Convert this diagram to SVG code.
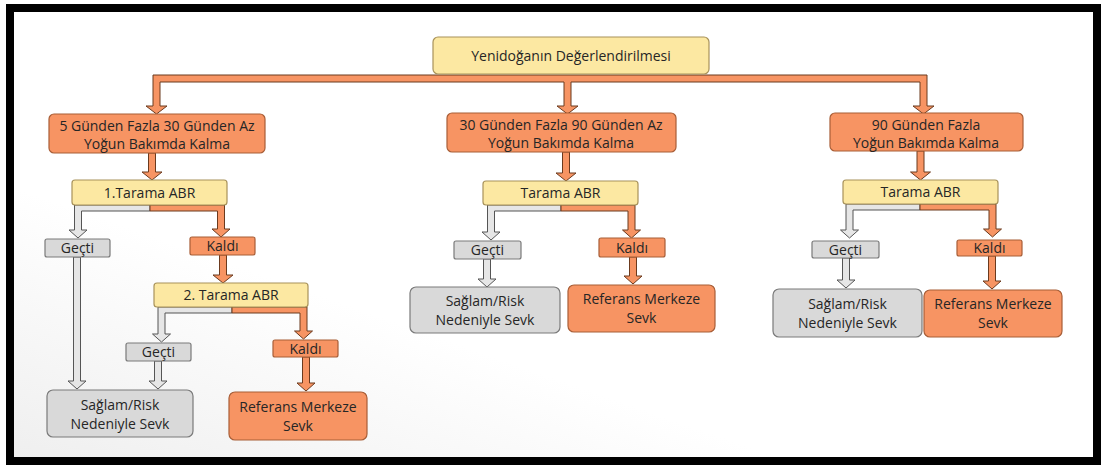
<svg xmlns="http://www.w3.org/2000/svg" width="1101" height="465" viewBox="0 0 1101 465">
<defs>
<style>
.y{fill:#FCE8A2;stroke:#A8925A;stroke-width:1.2}
.o{fill:#F79463;stroke:#A85E37;stroke-width:1.2}
.g{fill:#D9D9D9;stroke:#7A7A7A;stroke-width:1.2}
.ao{fill:#F79463;stroke:#6B3A1E;stroke-width:1}
.ag{fill:#E6E6E6;stroke:#555;stroke-width:1}
text{font-family:"Open Sans","Noto Sans",sans-serif;font-size:14px;fill:#262626;text-anchor:middle}
</style>
<linearGradient id="bg" x1="0" y1="1" x2="0.6" y2="0.3">
<stop offset="0" stop-color="#EFEFEF"/>
<stop offset="0.5" stop-color="#FFFFFF"/>
</linearGradient>
</defs>
<rect x="6" y="4" width="1095" height="461" fill="#000"/>
<rect x="14" y="12" width="1079" height="445" fill="url(#bg)"/>

<g id="connectors">
<path class="ao" d="M153,75 H927 V106 H934 L923.5,114 L913,106 H920 V82 H571 V106 H578 L567.5,114 L557,106 H564 V82 H160 V106 H167 L156.5,114 L146,106 H153 Z"/>
<path class="ao" d="M148.5,153 H155.5 V172 H162 L152,180 L142,172 H148.5 Z"/>
<path class="ao" d="M562.5,152 H569.5 V173 H576 L566,181 L556,173 H562.5 Z"/>
<path class="ao" d="M917,151 H924 V172 H930.5 L920.5,180 L910.5,172 H917 Z"/>
<path class="ag" d="M150,205 H74.5 V230 H69 L78,238 L87,230 H81.5 V211 H150 Z"/>
<path class="ao" d="M150,205 H224.5 V229 H230 L221,237 L212,229 H217.5 V211 H150 Z"/>
<path class="ao" d="M219.5,255 H226.5 V275 H233 L223,283 L213,275 H219.5 Z"/>
<path class="ag" d="M232,307 H158 V334 H152.5 L161.5,342 L170.5,334 H165 V313 H232 Z"/>
<path class="ao" d="M232,307 H307 V331 H312.5 L303.5,339 L294.5,331 H300 V313 H232 Z"/>
<path class="ag" d="M73.5,257 H80.5 V381 H86 L77,389 L68,381 H73.5 Z"/>
<path class="ag" d="M154.5,361 H161.5 V381 H167 L158,389 L149,381 H154.5 Z"/>
<path class="ao" d="M302.5,357 H309.5 V383 H315 L306,391 L297,383 H302.5 Z"/>
<path class="ag" d="M561,205 H487.5 V232 H482 L491,240 L500,232 H494.5 V211 H561 Z"/>
<path class="ao" d="M561,205 H635 V230 H640.5 L631.5,238 L622.5,230 H628 V211 H561 Z"/>
<path class="ag" d="M483.5,259 H490.5 V279 H496 L487,287 L478,279 H483.5 Z"/>
<path class="ao" d="M629.5,257 H636.5 V276 H642 L633,284 L624,276 H629.5 Z"/>
<path class="ag" d="M920,204 H846 V230 H840.5 L849.5,238 L858.5,230 H853 V210 H920 Z"/>
<path class="ao" d="M920,204 H996 V229 H1001.5 L992.5,237 L983.5,229 H989 V210 H920 Z"/>
<path class="ag" d="M842.5,258 H849.5 V280 H855 L846,288 L837,280 H842.5 Z"/>
<path class="ao" d="M988.5,256 H995.5 V281 H1001 L992,289 L983,281 H988.5 Z"/>
</g>

<g id="root"><rect class="y" x="433" y="37" width="276" height="37" rx="5"/><text x="571" y="61">Yenidoğanın Değerlendirilmesi</text></g>

<g id="l2a"><rect class="o" x="49" y="114" width="216" height="39" rx="5"/><text x="157" y="131">5 Günden Fazla 30 Günden Az</text><text x="157" y="149">Yoğun Bakımda Kalma</text></g>
<g id="l2b"><rect class="o" x="447" y="113" width="229" height="39" rx="5"/><text x="561" y="130">30 Günden Fazla 90 Günden Az</text><text x="561" y="148">Yoğun Bakımda Kalma</text></g>
<g id="l2c"><rect class="o" x="830" y="113" width="193" height="38" rx="5"/><text x="926" y="130">90 Günden Fazla</text><text x="926" y="148">Yoğun Bakımda Kalma</text></g>

<g id="t1"><rect class="y" x="72" y="180" width="155" height="25" rx="3"/><text x="149.5" y="197.5">1.Tarama ABR</text></g>
<g id="t2"><rect class="y" x="483" y="181" width="155" height="24" rx="3"/><text x="560.5" y="198">Tarama ABR</text></g>
<g id="t3"><rect class="y" x="843" y="180" width="155" height="24" rx="3"/><text x="920.5" y="197">Tarama ABR</text></g>

<g id="g1"><rect class="g" x="45" y="239" width="65" height="18" rx="2"/><text x="77.5" y="253">Geçti</text></g>
<g id="k1"><rect class="o" x="190" y="237" width="65" height="18" rx="2"/><text x="222.5" y="251">Kaldı</text></g>
<g id="t1b"><rect class="y" x="154" y="283" width="154" height="24" rx="3"/><text x="231" y="300">2. Tarama ABR</text></g>
<g id="g1b"><rect class="g" x="126" y="343" width="65" height="18" rx="2"/><text x="158.5" y="357">Geçti</text></g>
<g id="k1b"><rect class="o" x="273" y="340" width="65" height="17" rx="2"/><text x="305.5" y="353.5">Kaldı</text></g>
<g id="s1"><rect class="g" x="47" y="390" width="146" height="47" rx="6"/><text x="120" y="410">Sağlam/Risk</text><text x="120" y="429">Nedeniyle Sevk</text></g>
<g id="r1"><rect class="o" x="229" y="392" width="138" height="48" rx="6"/><text x="298" y="412">Referans Merkeze</text><text x="298" y="431">Sevk</text></g>

<g id="g2"><rect class="g" x="454" y="241" width="67" height="18" rx="2"/><text x="487.5" y="255">Geçti</text></g>
<g id="k2"><rect class="o" x="599" y="238" width="66" height="19" rx="2"/><text x="632" y="252.5">Kaldı</text></g>
<g id="s2"><rect class="g" x="410" y="287" width="150" height="46" rx="6"/><text x="485" y="306">Sağlam/Risk</text><text x="485" y="325">Nedeniyle Sevk</text></g>
<g id="r2"><rect class="o" x="568" y="285" width="147" height="47" rx="6"/><text x="641.5" y="304">Referans Merkeze</text><text x="641.5" y="323">Sevk</text></g>

<g id="g3"><rect class="g" x="812" y="241" width="67" height="17" rx="2"/><text x="845.5" y="254.5">Geçti</text></g>
<g id="k3"><rect class="o" x="957" y="240" width="65" height="16" rx="2"/><text x="989.5" y="253">Kaldı</text></g>
<g id="s3"><rect class="g" x="773" y="289" width="149" height="48" rx="6"/><text x="847.5" y="309">Sağlam/Risk</text><text x="847.5" y="328">Nedeniyle Sevk</text></g>
<g id="r3"><rect class="o" x="924" y="290" width="138" height="47" rx="6"/><text x="993" y="309">Referans Merkeze</text><text x="993" y="328">Sevk</text></g>
</svg>
